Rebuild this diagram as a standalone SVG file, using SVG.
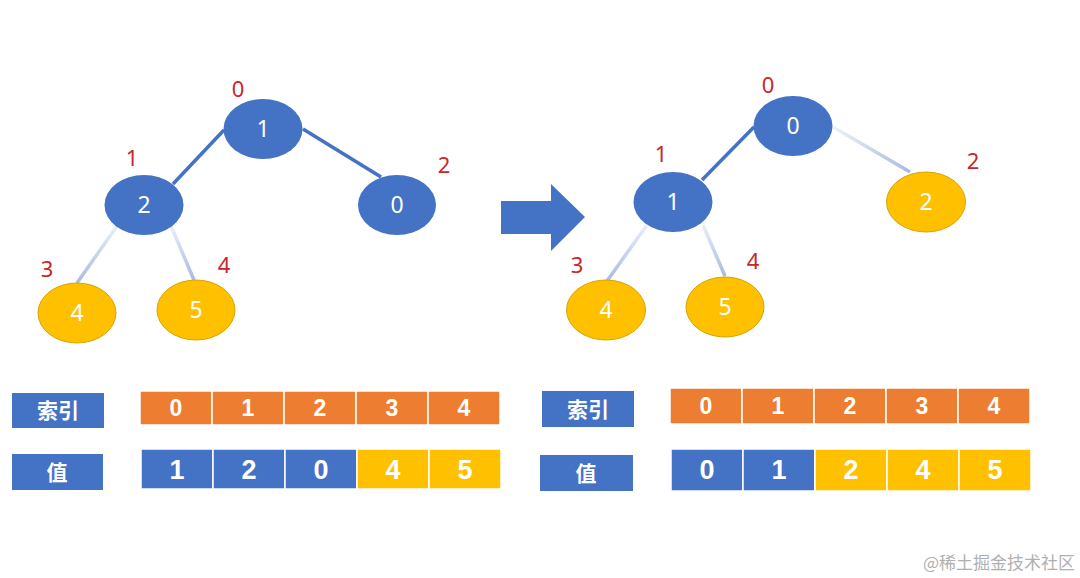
<svg xmlns="http://www.w3.org/2000/svg" width="1080" height="578" viewBox="0 0 1080 578">
<defs>
<linearGradient id="fadeV" x1="0" y1="0" x2="0" y2="1">
<stop offset="0" stop-color="#e9eef8"/>
<stop offset="1" stop-color="#a7bbe2"/>
</linearGradient>
<linearGradient id="fadeH" x1="0" y1="0" x2="1" y2="0">
<stop offset="0" stop-color="#eef2fa"/>
<stop offset="1" stop-color="#a7bbe2"/>
</linearGradient>
</defs>
<style>
.bn{fill:#4472c4;}
.yn{fill:#ffc000;stroke:#d9a400;stroke-width:1;}
.nt{font-family:"Noto Sans","Liberation Sans",sans-serif;font-size:23px;fill:#ffffff;text-anchor:middle;}
.ix{font-family:"Noto Sans","Liberation Sans",sans-serif;font-size:22px;fill:#c8262b;text-anchor:middle;}
.dark{stroke:#4472c4;stroke-width:3.5;fill:none;}
.lv{stroke:url(#fadeV);stroke-width:3.5;fill:none;}
.lh{stroke:url(#fadeH);stroke-width:3.5;fill:none;}
.cell{stroke:#ffffff;stroke-width:1.5;}
.or{fill:#ed7d31;}
.bl{fill:#4472c4;}
.ye{fill:#ffc000;}
.lab{font-family:"Noto Sans CJK SC","Liberation Sans",sans-serif;font-size:21px;font-weight:bold;fill:#ffffff;text-anchor:middle;}
.it{font-family:"Liberation Sans","Noto Sans",sans-serif;font-size:23px;font-weight:bold;fill:#ffffff;text-anchor:middle;}
.vt{font-family:"Liberation Sans","Noto Sans",sans-serif;font-size:27px;font-weight:bold;fill:#ffffff;text-anchor:middle;}
</style>
<rect width="1080" height="578" fill="#ffffff"/>

<g id="connectors">
<line class="dark" x1="224" y1="130" x2="173" y2="184"/>
<line class="dark" x1="303" y1="129" x2="381" y2="177"/>
<line class="lv" x1="117" y1="226" x2="77" y2="283"/>
<line class="lv" x1="171" y1="226" x2="194" y2="280"/>
<line class="dark" x1="754" y1="127" x2="702" y2="180"/>
<line class="lh" x1="833" y1="127" x2="910" y2="172"/>
<line class="lv" x1="647" y1="225" x2="607" y2="281"/>
<line class="lv" x1="703" y1="225" x2="725" y2="276"/>
</g>

<g id="left-n0"><ellipse class="bn" cx="263" cy="129" rx="39.5" ry="30"/><text class="nt" x="263" y="137">1</text><text class="ix" x="238" y="97">0</text></g>
<g id="left-n1"><ellipse class="bn" cx="144" cy="205" rx="39.5" ry="30"/><text class="nt" x="144" y="213">2</text><text class="ix" x="132" y="166">1</text></g>
<g id="left-n2"><ellipse class="bn" cx="397" cy="205" rx="39" ry="30"/><text class="nt" x="397" y="213">0</text><text class="ix" x="444" y="173">2</text></g>
<g id="left-n3"><ellipse class="yn" cx="77" cy="313" rx="39" ry="30"/><text class="nt" x="77" y="321">4</text><text class="ix" x="47" y="277">3</text></g>
<g id="left-n4"><ellipse class="yn" cx="196" cy="310" rx="39" ry="30"/><text class="nt" x="196" y="318">5</text><text class="ix" x="224" y="273">4</text></g>

<g id="arrow"><polygon fill="#4472c4" points="501,201 551,201 551,184 585,217 551,251 551,234 501,234"/></g>

<g id="right-n0"><ellipse class="bn" cx="793" cy="126" rx="39.5" ry="30"/><text class="nt" x="793" y="134">0</text><text class="ix" x="768" y="93">0</text></g>
<g id="right-n1"><ellipse class="bn" cx="673" cy="202" rx="39.5" ry="30"/><text class="nt" x="673" y="210">1</text><text class="ix" x="661" y="162">1</text></g>
<g id="right-n2"><ellipse class="yn" cx="926" cy="202" rx="39.5" ry="30"/><text class="nt" x="926" y="210">2</text><text class="ix" x="973" y="169">2</text></g>
<g id="right-n3"><ellipse class="yn" cx="606" cy="310" rx="39.5" ry="30"/><text class="nt" x="606" y="318">4</text><text class="ix" x="577" y="273">3</text></g>
<g id="right-n4"><ellipse class="yn" cx="725" cy="307" rx="39" ry="30"/><text class="nt" x="725" y="315">5</text><text class="ix" x="753" y="269">4</text></g>

<g id="left-index-label"><rect class="bl" x="12" y="393" width="92" height="35"/><text class="lab" x="58" y="418">索引</text></g>
<g id="left-value-label"><rect class="bl" x="12" y="454" width="91" height="36"/><text class="lab" x="57" y="480">值</text></g>
<g id="left-index-row">
<rect class="or cell" x="140" y="391" width="72" height="34"/>
<rect class="or cell" x="212" y="391" width="72" height="34"/>
<rect class="or cell" x="284" y="391" width="72" height="34"/>
<rect class="or cell" x="356" y="391" width="72" height="34"/>
<rect class="or cell" x="428" y="391" width="72" height="34"/>
<text class="it" x="176" y="416">0</text><text class="it" x="248" y="416">1</text><text class="it" x="320" y="416">2</text><text class="it" x="392" y="416">3</text><text class="it" x="464" y="416">4</text>
</g>
<g id="left-value-row">
<rect class="bl cell" x="141" y="449" width="72" height="40"/>
<rect class="bl cell" x="213" y="449" width="72" height="40"/>
<rect class="bl cell" x="285" y="449" width="72" height="40"/>
<rect class="ye cell" x="357" y="449" width="72" height="40"/>
<rect class="ye cell" x="429" y="449" width="72" height="40"/>
<text class="vt" x="177" y="479">1</text><text class="vt" x="249" y="479">2</text><text class="vt" x="321" y="479">0</text><text class="vt" x="393" y="479">4</text><text class="vt" x="465" y="479">5</text>
</g>

<g id="right-index-label"><rect class="bl" x="542" y="391" width="92" height="36"/><text class="lab" x="588" y="417">索引</text></g>
<g id="right-value-label"><rect class="bl" x="540" y="455" width="93" height="36"/><text class="lab" x="586" y="481">值</text></g>
<g id="right-index-row">
<rect class="or cell" x="670" y="388" width="72" height="36"/>
<rect class="or cell" x="742" y="388" width="72" height="36"/>
<rect class="or cell" x="814" y="388" width="72" height="36"/>
<rect class="or cell" x="886" y="388" width="72" height="36"/>
<rect class="or cell" x="958" y="388" width="72" height="36"/>
<text class="it" x="706" y="414">0</text><text class="it" x="778" y="414">1</text><text class="it" x="850" y="414">2</text><text class="it" x="922" y="414">3</text><text class="it" x="994" y="414">4</text>
</g>
<g id="right-value-row">
<rect class="bl cell" x="671" y="449" width="72" height="42"/>
<rect class="bl cell" x="743" y="449" width="72" height="42"/>
<rect class="ye cell" x="815" y="449" width="72" height="42"/>
<rect class="ye cell" x="887" y="449" width="72" height="42"/>
<rect class="ye cell" x="959" y="449" width="72" height="42"/>
<text class="vt" x="707" y="479">0</text><text class="vt" x="779" y="479">1</text><text class="vt" x="851" y="479">2</text><text class="vt" x="923" y="479">4</text><text class="vt" x="995" y="479">5</text>
</g>

<text x="1075" y="569" font-family="Noto Sans CJK SC,Liberation Sans,sans-serif" font-size="17" fill="#b0b0b0" text-anchor="end">@稀土掘金技术社区</text>
</svg>
